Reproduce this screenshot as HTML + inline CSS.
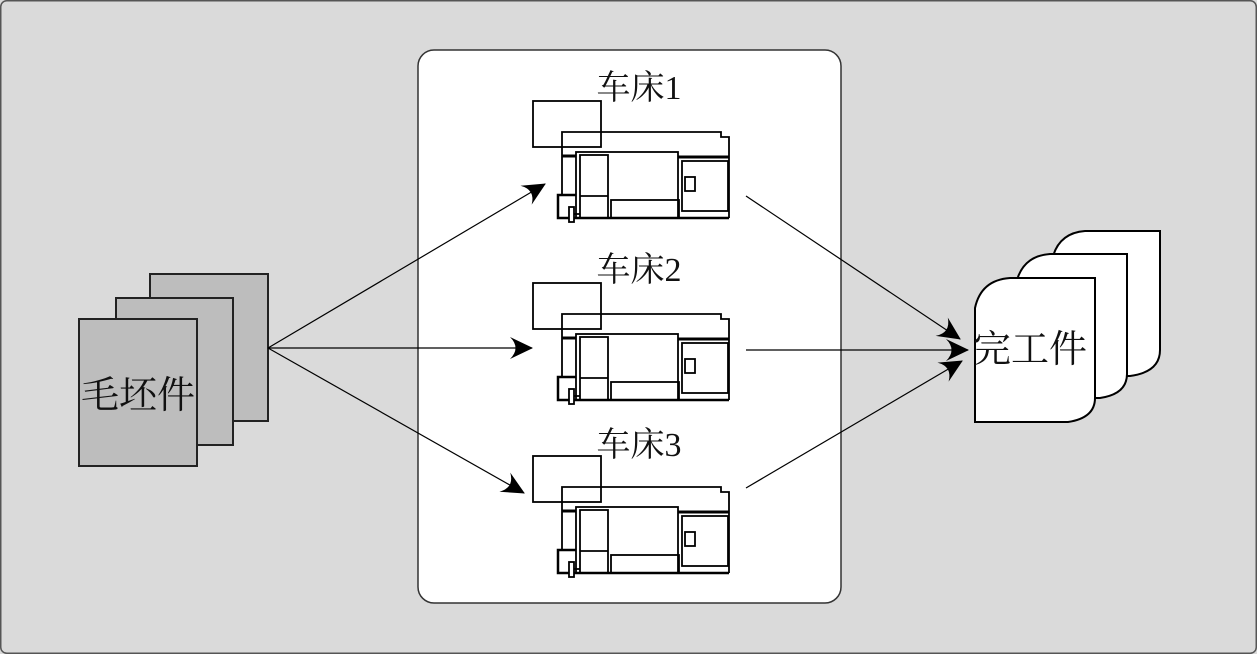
<!DOCTYPE html>
<html><head><meta charset="utf-8"><style>
html,body{margin:0;padding:0;background:#dadada}
svg{display:block}
text{font-family:"Liberation Serif","Noto Serif CJK SC","Noto Sans CJK SC",serif;fill:#111}
</style></head><body>
<svg width="1257" height="654" viewBox="0 0 1257 654" xmlns="http://www.w3.org/2000/svg">
<defs>
<marker id="ah" viewBox="-24 -12 26 24" markerWidth="26" markerHeight="24" refX="0" refY="0" orient="auto" markerUnits="userSpaceOnUse">
<path d="M1,0 L-22,-11 Q-11,0 -22,11 Z" fill="#000"/>
</marker>
<g id="lathe" fill="none" stroke="#000" stroke-width="1.8">
<rect x="533" y="101" width="68" height="46" fill="none"/>
<path d="M562,195 L562,132 L721,132 L721,137 L729,137 L729,218" />
<line x1="562" y1="156" x2="576" y2="156" stroke-width="3"/>
<line x1="678" y1="157" x2="729" y2="157" stroke-width="3"/>
<rect x="576" y="152" width="102" height="66"/>
<rect x="580" y="155" width="28" height="63"/>
<line x1="580" y1="196" x2="608" y2="196"/>
<rect x="682" y="161" width="46" height="50"/>
<rect x="685" y="177" width="10" height="14"/>
<rect x="611" y="200" width="68" height="18"/>
<path d="M576,195 L558,195 L558,218 L729,218" stroke-width="2.5"/>
<rect x="569" y="207" width="5" height="15" fill="#fff"/>
<line x1="574" y1="214" x2="580" y2="214"/>
</g>
</defs>
<rect x="0.75" y="0.75" width="1255.5" height="652.5" rx="6" fill="#dadada" stroke="#555" stroke-width="1.5"/>
<rect x="418" y="50" width="423" height="553" rx="16" fill="#fff" stroke="#333" stroke-width="1.5"/>

<rect x="150" y="274" width="118" height="147" fill="#bdbdbd" stroke="#222" stroke-width="2"/>
<rect x="116" y="298" width="117" height="147" fill="#bdbdbd" stroke="#222" stroke-width="2"/>
<rect x="79" y="319" width="118" height="147" fill="#bdbdbd" stroke="#222" stroke-width="2"/>
<text x="138" y="408" font-size="38" text-anchor="middle">毛坯件</text>

<use href="#lathe"/>
<use href="#lathe" transform="translate(0,182)"/>
<use href="#lathe" transform="translate(0,355)"/>
<text x="639" y="99" font-size="34" text-anchor="middle">车床1</text>
<text x="639" y="281" font-size="34" text-anchor="middle">车床2</text>
<text x="639" y="456" font-size="34" text-anchor="middle">车床3</text>

<g fill="#fff" stroke="#000" stroke-width="2">
<path d="M1160,231 L1160,350 Q1160,372 1130,376 L1052,376 L1052,260 Q1058,233 1085,231 Z"/>
<path d="M1127,254 L1127,374 Q1127,394 1100,398 L1016,398 L1016,284 Q1022,256 1050,254 Z"/>
<path d="M1095,278 L1095,398 Q1095,418 1068,422 L975,422 L975,308 Q981,280 1010,278 Z"/>
</g>
<text x="1030" y="362" font-size="38" text-anchor="middle">完工件</text>

<g stroke="#000" stroke-width="1.2" marker-end="url(#ah)">
<line x1="268" y1="348" x2="545" y2="184"/>
<line x1="268" y1="348" x2="532" y2="348"/>
<line x1="268" y1="348" x2="524" y2="493"/>
<line x1="746" y1="196" x2="960" y2="339"/>
<line x1="746" y1="350" x2="968" y2="350"/>
<line x1="746" y1="488" x2="962" y2="361"/>
</g>
</svg>
</body></html>
